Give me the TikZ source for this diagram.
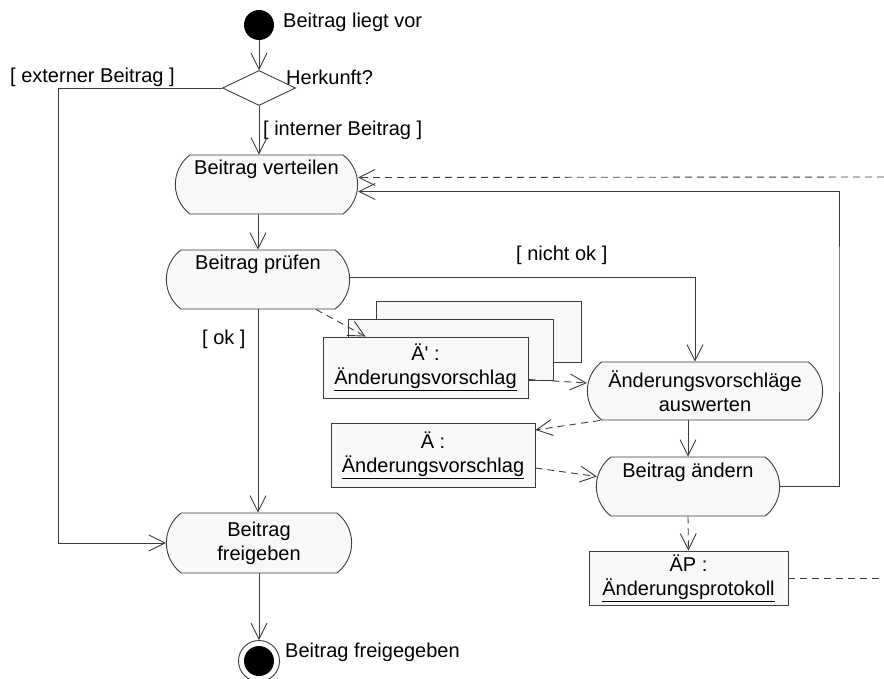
\documentclass[tikz,border=0pt]{standalone}
\usepackage{fontspec}
\setmainfont{Liberation Sans}
\usetikzlibrary{shapes.geometric,shapes.misc,arrows.meta,positioning,calc}
\definecolor{umlline}{HTML}{3C3C3C}
\definecolor{umlfill}{HTML}{F8F8F8}

\begin{document}
\begin{tikzpicture}[x=1pt,y=-1pt,
  font=\fontsize{20}{24}\selectfont,
  activity/.style={draw=umlline,fill=umlfill,line width=0.9pt,rounded rectangle,rounded rectangle arc length=105,minimum width=190pt,minimum height=59pt,align=center},
  activity top/.style={activity,inner ysep=0pt,text height=20pt,text depth=39pt},
  object/.style={draw=umlline,fill=umlfill,line width=0.9pt,rectangle,minimum width=205pt,minimum height=61pt,align=center,inner sep=2pt},
  decision/.style={draw=umlline,fill=white,line width=0.9pt,diamond,aspect=2.1,minimum width=73pt,minimum height=35pt,inner sep=0pt},
  flow/.style={-{Straight Barb[length=16pt,width=16pt]},line width=0.9pt,color=umlline},
  dep/.style={flow,dash pattern=on 7pt off 5pt},
  guard/.style={inner sep=0pt,anchor=west}
]
  \useasboundingbox (0,0) rectangle (884,679);

  % start and decision
  \node[circle,fill=black,minimum size=30pt,inner sep=0pt] (start) at (259,25) {};
  \node[guard] (startlbl) at (283,22) {Beitrag liegt vor};
  \node[decision] (herkunft) at (259,88) {};
  \node[guard] (herkunftlbl) at (286,77) {Herkunft?};
  \node[guard] (extlbl) at (10,77) {[ externer Beitrag ]};
  \node[guard] (intlbl) at (263,130) {[ interner Beitrag ]};

  % activities
  \node[activity top,minimum width=189pt] (verteilen) at (266.5,184.5) {Beitrag verteilen};
  \node[activity top] (pruefen) at (258,279.5) {Beitrag pr\"ufen};
  \node[activity,minimum width=192pt,minimum height=60pt] (freigeben) at (259,543) {Beitrag\\freigeben};
  \node[activity,minimum width=242pt,minimum height=58pt] (auswerten) at (705,391) {\"Anderungsvorschl\"age\\auswerten};
  \node[activity top] (aendern) at (688,486.5) {Beitrag \"andern};

  % objects
  \node[object] (aeAback) at (478.5,331.5) {};
  \node[object] (aeAmid) at (451,350) {};
  \node[object] (aeA) at (425.5,367.5) {\"A\textquotesingle\ :\\\underline{\"Anderungsvorschlag}};
  \node[object,minimum width=204pt,minimum height=64pt] (ae) at (433,455) {\"A :\\\underline{\"Anderungsvorschlag}};
  \node[object,minimum width=199pt,minimum height=54pt,inner sep=0pt] (aep) at (688.5,578) {\"AP :\\\underline{\"Anderungsprotokoll}};

  % end
  \node[circle,draw=umlline,fill=white,line width=0.9pt,minimum size=41pt,inner sep=0pt] (final) at (259,661) {};
  \node[circle,fill=black,minimum size=30pt,inner sep=0pt] (finalcore) at (final) {};
  \node[guard] (finallbl) at (285,652) {Beitrag freigegeben};

  % guards
  \node[guard] (noklbl) at (516,255) {[ nicht ok ]};
  \node[guard] (oklbl) at (202,339) {[ ok ]};

  \coordinate (extbend) at (58,88);
  \coordinate (nokbend) at (695,277);
  \coordinate (loopx) at (839,300);
  \coordinate (aepout) at (884,578);
  \coordinate (vertin) at (884,177);

  % control flow
  \draw[flow] (start) -- (herkunft);
  \draw[flow] (herkunft.west) -- (extbend) |- (freigeben.west);
  \draw[flow] (herkunft.south) -- (herkunft.south |- verteilen.north);
  \draw[flow] (verteilen.south -| pruefen.north) -- (pruefen.north);
  \draw[flow] (pruefen.east |- nokbend) -- (nokbend) -- (nokbend |- auswerten.north);
  \draw[flow] (pruefen.south) -- (pruefen.south |- freigeben.north);
  \draw[flow] (aendern.north |- auswerten.south) -- (aendern.north);
  \draw[flow] (aendern.east) -| (loopx) |- ([yshift=-7pt]verteilen.east);
  \draw[flow] (freigeben.south) -- (final.north);

  % object flow
  \draw[dep] ([xshift=58pt]pruefen.south) -- ([xshift=-60pt]aeA.north);
  \draw[dep] ([yshift=-12pt]aeA.east) -- ([yshift=8pt]auswerten.west);
  \draw[dep] ([xshift=-105pt]auswerten.south) -- ([yshift=25pt]ae.east);
  \draw[dep] ([yshift=-13pt]ae.east) -- ([yshift=10pt,xshift=1pt]aendern.west);
  \draw[dep] (aendern.south) -- (aep.north);
  \draw[dep,-] (aep.east) -- (aepout);
  \draw[dep] (vertin) -- ([yshift=7pt]verteilen.east);
\end{tikzpicture}
\end{document}
